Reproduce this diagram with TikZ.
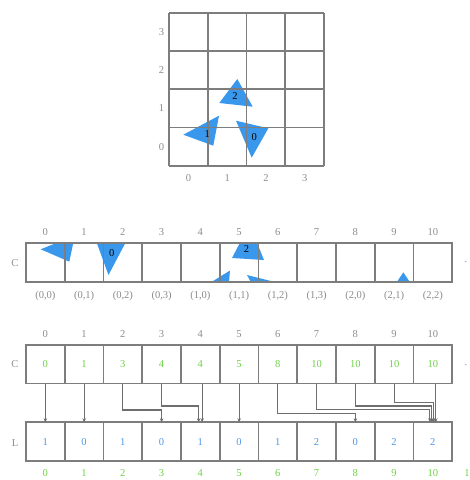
\documentclass[tikz,border=0pt]{standalone}
\usepackage{fontspec}
\setmainfont{Liberation Serif}
\usetikzlibrary{arrows.meta}
\definecolor{gridgray}{RGB}{125,125,125}
\definecolor{labelgray}{RGB}{140,140,140}
\definecolor{linkgray}{RGB}{110,110,110}
\definecolor{triblue}{RGB}{58,152,236}
\definecolor{valgreen}{RGB}{110,210,70}
\definecolor{valblue}{RGB}{80,150,230}
\tikzset{
  gridline/.style={draw=gridgray, line width=1.6pt},
  cell/.style={draw=gridgray, line width=1.6pt, minimum width=1.1625cm,
    minimum height=1.16cm, inner sep=0pt, outer sep=0pt, font=\fontsize{9}{11}\selectfont},
  idx/.style={text=labelgray, inner sep=1pt, font=\fontsize{9}{11}\selectfont},
  tri/.style={fill=triblue},
  trilabel/.style={inner sep=0pt, font=\fontsize{9}{11}\selectfont},
  link/.style={draw=linkgray, line width=0.9pt, -{Stealth[length=3.5pt,width=3pt]}},
}
\begin{document}
\begin{tikzpicture}[x=0.03cm, y=-0.03cm]
\useasboundingbox (0,0) rectangle (469,480);

% the 4x4 grid with the three triangles
\fill[tri] (237.3,79) -- (219.3,103) -- (252.7,106.7) -- cycle;
\fill[tri] (219,115.7) -- (183.3,134.7) -- (213.3,145.7) -- cycle;
\fill[tri] (236,120.7) -- (268.3,128.3) -- (251.7,157.7) -- cycle;
\foreach \i in {0,...,4} {
  \draw[gridline] (169+38.75*\i,12.7) -- (169+38.75*\i,165.7);
  \draw[gridline] (169,12.7+38.25*\i) -- (324,12.7+38.25*\i);
}
\node[trilabel] (tri2) at (235,95.7) {2};
\node[trilabel] (tri1) at (207.3,134.3) {1};
\node[trilabel] (tri0) at (254.3,137.3) {0};
\foreach \i in {0,...,3} {
  \node[idx] (gx\i) at (188.4+38.75*\i,178) {\i};
  \node[idx] (gy\i) at (161.5,146.6-38.25*\i) {\i};
}

% cells holding the triangle pieces
\fill[tri] (40.7,249.3) -- (57,242.7) -- (73.3,242.7) -- (69.3,261.7) -- cycle;
\fill[tri] (96.7,242.7) -- (125.5,242.7) -- (108.5,275) -- cycle;
\fill[tri] (232,258) -- (240,242.7) -- (257,242.7) -- (264,260) -- cycle;
\fill[tri] (211,282.3) -- (230,270.5) -- (229,282.3) -- cycle;
\fill[tri] (247,275) -- (276,282.3) -- (251,282.3) -- cycle;
\fill[tri] (396.7,282.3) -- (403.3,272.3) -- (410,282.3) -- cycle;
\node[idx] (hc) at (15,263.3) {C};
\foreach \i/\a/\b in {0/0/0,1/0/1,2/0/2,3/0/3,4/1/0,5/1/1,6/1/2,7/1/3,8/2/0,9/2/1,10/2/2} {
  \node[cell, minimum height=1.18cm] (h\i) at (45.375+38.75*\i,262.5) {};
  \node[idx] (hi\i) at (45.375+38.75*\i,232.3) {\i};
  \node[idx] (hk\i) at (45.375+38.75*\i,296) {(\a,\b)};
}
\node[trilabel] (hl0) at (111.7,252.8) {0};
\node[trilabel] (hl2) at (246.5,249.2) {2};
\node[idx] (hdot) at (466,262) {.};

% counts C and list L
\node[idx] (cc) at (15,364.3) {C};
\node[idx] (ll) at (15,442.7) {L};
\foreach \i/\v/\w in {0/0/1,1/1/0,2/3/1,3/4/0,4/4/1,5/5/0,6/8/1,7/10/2,8/10/0,9/10/2,10/10/2} {
  \node[cell, text=valgreen] (c\i) at (45.375+38.75*\i,364.2) {\v};
  \node[cell, text=valblue] (l\i) at (45.375+38.75*\i,441.7) {\w};
  \node[idx] (ci\i) at (45.375+38.75*\i,334) {\i};
  \node[idx, text=valgreen] (li\i) at (45.375+38.75*\i,473.3) {\i};
}
\node[idx] (cdot) at (466,365) {.};
\node[idx, text=valgreen, anchor=west] (lend) at (463,473.3) {11};

\draw[link] (c0) -- (l0);
\draw[link] (c1) -- (l1);
\draw[link] (c2.south) -- (c2 |- 0,410) -| (l3.north);
\draw[link] (c3.south) -- (c3 |- 0,406) -| ([xshift=-1.5pt]l4.north);
\draw[link] ([xshift=1.5pt]c4.south) -- ([xshift=1.5pt]l4.north);
\draw[link] (c5) -- (l5);
\draw[link] (c6.south) -- (c6 |- 0,413.3) -| (l8.north);
\draw[link] (c7.south) -- (c7 |- 0,409.3) -| ([xshift=-2.5pt]l10.north);
\draw[link] (c8.south) -- (c8 |- 0,406) -| ([xshift=-0.8pt]l10.north);
\draw[link] (c9.south) -- (c9 |- 0,402.7) -| ([xshift=0.8pt]l10.north);
\draw[link] ([xshift=2.5pt]c10.south) -- ([xshift=2.5pt]l10.north);
\end{tikzpicture}
\end{document}
